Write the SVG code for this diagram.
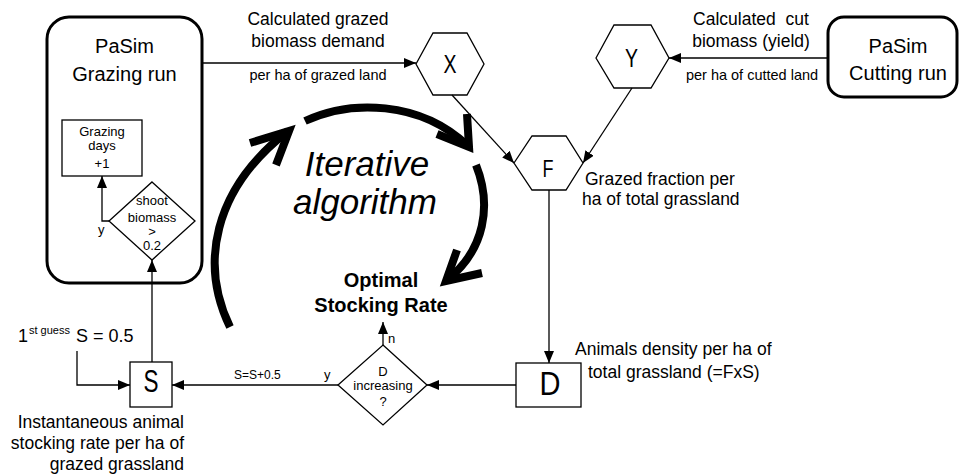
<svg xmlns="http://www.w3.org/2000/svg" width="961" height="476" viewBox="0 0 961 476">
<style>
text{font-family:"Liberation Sans",Arial,sans-serif;fill:#000}
.c{text-anchor:middle}
.r{text-anchor:end}
.big{fill:#fff;stroke:#000;stroke-width:3}
.shape{fill:#fff;stroke:#000;stroke-width:1.3}
.ln{fill:none;stroke:#000;stroke-width:1.3}
.arc{fill:none;stroke:#000;stroke-width:8}
.lab{font-size:17.5px}
.sm{font-size:14.5px}
.tiny{font-size:13px}
</style>
<defs>
<marker id="ah" viewBox="0 0 12 10" refX="12" refY="5" markerWidth="12" markerHeight="10" orient="auto" markerUnits="userSpaceOnUse"><path d="M0,0 L12,5 L0,10 z" fill="#000"/></marker>
</defs>
<rect width="961" height="476" fill="#fff"/>

<g id="grazing-run">
<rect class="big" x="47" y="17" width="155" height="266" rx="22"/>
<text class="c" x="124.5" y="53" font-size="20">PaSim</text>
<text class="c" x="124.5" y="81" font-size="20">Grazing run</text>
</g>
<g id="grazing-days">
<rect class="shape" x="62" y="120" width="80" height="56"/>
<text class="c tiny" x="102" y="136">Grazing</text>
<text class="c tiny" x="102" y="150">days</text>
<text class="c tiny" x="102" y="168">+1</text>
</g>
<g id="shoot-biomass">
<path class="shape" d="M152,182 L195,221 L152,260 L109,221 Z"/>
<text class="c tiny" x="152" y="205">shoot</text>
<text class="c tiny" x="152" y="222">biomass</text>
<text class="c tiny" x="152" y="236">&gt;</text>
<text class="c tiny" x="152" y="250">0.2</text>
</g>
<g id="cutting-run">
<rect class="big" x="828" y="17" width="129" height="80" rx="16"/>
<text class="c" x="898" y="53" font-size="20">PaSim</text>
<text class="c" x="898" y="80" font-size="20">Cutting run</text>
</g>
<g id="X">
<path class="shape" d="M416,64 L433,33 L467,33 L484,64 L467,95 L433,95 Z"/>
<text class="c" x="450" y="73" font-size="25" textLength="13" lengthAdjust="spacingAndGlyphs">X</text>
</g>
<g id="Y">
<path class="shape" d="M596,58 L614,25 L651,25 L669,58 L651,88 L614,88 Z"/>
<text class="c" x="631.5" y="67" font-size="26" textLength="13" lengthAdjust="spacingAndGlyphs">Y</text>
</g>
<g id="F">
<path class="shape" d="M514,163 L532,136 L566,136 L583,163 L566,190 L532,190 Z"/>
<text class="c" x="548" y="177" font-size="24" textLength="11" lengthAdjust="spacingAndGlyphs">F</text>
<text class="lab" x="585" y="185">Grazed fraction per</text>
<text class="lab" x="582" y="205">ha of total grassland</text>
</g>
<g id="D">
<rect class="shape" x="516" y="363" width="65" height="44"/>
<text class="c" x="550" y="395" font-size="33" textLength="21" lengthAdjust="spacingAndGlyphs">D</text>
<text class="lab" x="575" y="355">Animals density per ha of</text>
<text class="lab" x="588" y="378">total grassland (=FxS)</text>
</g>
<g id="D-increasing">
<path class="shape" d="M383,345 L427,385 L383,425 L338,385 Z"/>
<text class="c tiny" x="383" y="376">D</text>
<text class="c tiny" x="383" y="390">increasing</text>
<text class="c tiny" x="383" y="406">?</text>
</g>
<g id="optimal">
<text class="c" x="381" y="287" font-size="20" font-weight="bold">Optimal</text>
<text class="c" x="381" y="312" font-size="20" font-weight="bold">Stocking Rate</text>
</g>
<g id="S">
<rect class="shape" x="130" y="362" width="42" height="45"/>
<text class="c" x="151" y="392" font-size="32" textLength="15" lengthAdjust="spacingAndGlyphs">S</text>
<text class="r lab" x="184" y="428">Instantaneous animal</text>
<text class="r lab" x="184" y="449">stocking rate per ha of</text>
<text class="r lab" x="184" y="470">grazed grassland</text>
</g>
<g id="first-guess">
<text x="18" y="342" font-size="18">1</text>
<text x="29" y="334" font-size="11">st guess</text>
<text x="76" y="342" font-size="18">S = 0.5</text>
</g>
<g id="iterative">
<path class="arc" d="M230,327 C200,265 212,190 288,131"/>
<path class="arc" d="M250,143 L289,131 L276,165"/>
<path class="arc" d="M305,121 C350,100 420,100 468,146"/>
<path class="arc" d="M437,134 L469,147 L467,114"/>
<path class="arc" d="M476,165 C492,205 485,250 447,280"/>
<path class="arc" d="M457,250 L446,281 L482,273"/>
<text class="c" x="367" y="176" font-size="35" font-style="italic">Iterative</text>
<text class="c" x="365" y="214" font-size="35" font-style="italic">algorithm</text>
</g>

<g id="connectors">
<path class="ln" d="M202,63 L416,63" marker-end="url(#ah)"/>
<path class="ln" d="M828,58 L669,58" marker-end="url(#ah)"/>
<path class="ln" d="M452,95 L514,163" marker-end="url(#ah)"/>
<path class="ln" d="M632,88 L583,163" marker-end="url(#ah)"/>
<path class="ln" d="M549,190 L549,363" marker-end="url(#ah)"/>
<path class="ln" d="M516,385 L427,385" marker-end="url(#ah)"/>
<path class="ln" d="M338,385 L172,385" marker-end="url(#ah)"/>
<path class="ln" d="M383,345 L383,322" marker-end="url(#ah)"/>
<path class="ln" d="M77,351 L77,385 L130,385" marker-end="url(#ah)"/>
<path class="ln" d="M152,362 L152,260" marker-end="url(#ah)"/>
<path class="ln" d="M109,221 L102,221 L102,176" marker-end="url(#ah)"/>
<text class="c lab" x="318" y="25">Calculated grazed</text>
<text class="c lab" x="318" y="47">biomass demand</text>
<text class="c sm" x="318" y="80">per ha of grazed land</text>
<text class="c lab" x="751" y="25" xml:space="preserve">Calculated  cut</text>
<text class="c lab" x="751" y="47">biomass (yield)</text>
<text class="c sm" x="752" y="80">per ha of cutted land</text>
<text class="tiny" x="98" y="234">y</text>
<text x="234" y="379" font-size="12">S=S+0.5</text>
<text x="324" y="379" font-size="13">y</text>
<text x="388" y="343" font-size="13">n</text>
</g>
</svg>
